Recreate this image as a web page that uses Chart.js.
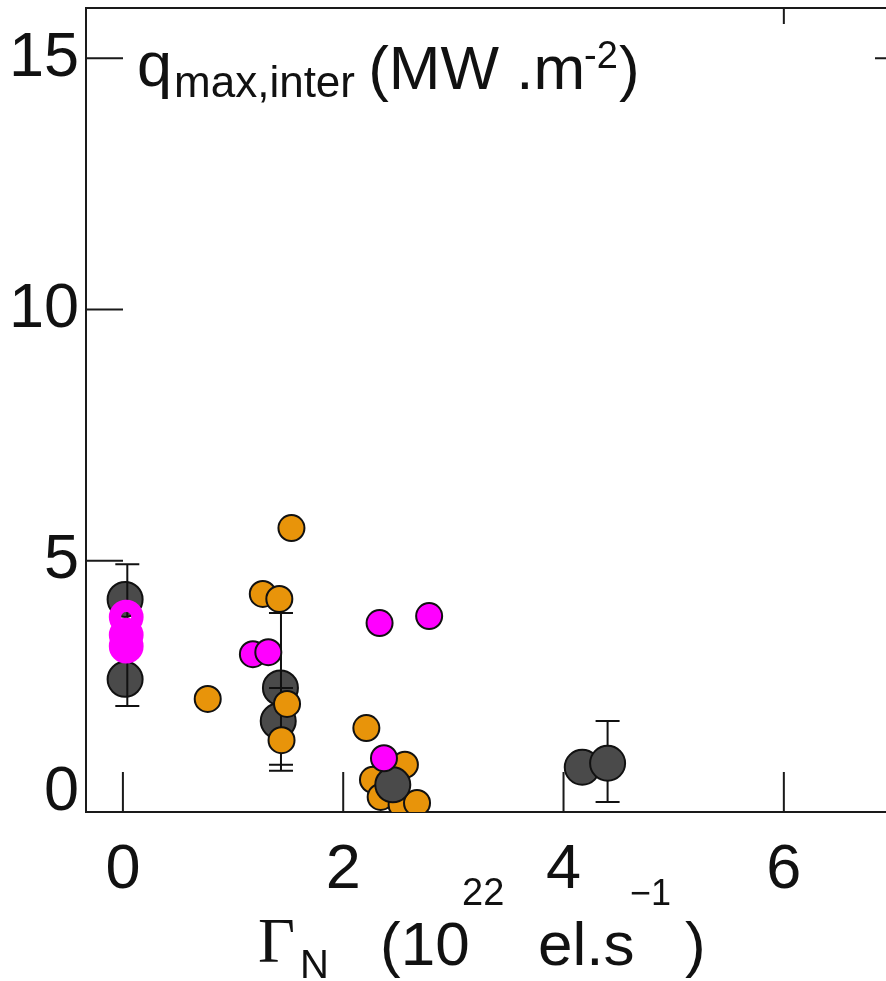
<!DOCTYPE html>
<html><head><meta charset="utf-8">
<script src="https://cdn.jsdelivr.net/npm/chart.js@4.4.1/dist/chart.umd.min.js"></script>
<style>html,body{margin:0;padding:0;background:#fff;overflow:hidden;width:886px;height:981px}#wrap{width:900px;height:981px}canvas{display:block}</style>
</head><body>
<div id="wrap"><canvas id="c" width="900" height="981" style="width:900px;height:981px"></canvas></div>
<script>
// ---- data ----
const xTickValues = [0, 2, 4, 6];
const yTickValues = [0, 5, 10, 15];
const topTickValues = [6];
const rightTickValues = [15];

const greyLowerX = [0.02, 0.02, 1.43, 1.41];
const greyLowerY = [4.23, 2.64, 2.47, 1.81];
const greyUpperX = [2.45, 4.17, 4.40];
const greyUpperY = [0.54, 0.89, 0.97];

const orangeX = [1.53, 1.27, 1.42, 0.77, 1.49, 1.44, 2.21, 2.56, 2.27, 2.34, 2.53, 2.67];
const orangeY = [5.65, 4.34, 4.24, 2.25, 2.15, 1.43, 1.67, 0.94, 0.64, 0.30, 0.14, 0.18];

const magentaX = [2.33, 2.78, 1.18, 1.32, 2.37];
const magentaY = [3.76, 3.90, 3.14, 3.18, 1.07];
const magentaZeroX = [0.03, 0.03, 0.03];
const magentaZeroY = [3.88, 3.52, 3.30];

const errX = [0.04, 1.435, 1.435, 4.40];
const errLow = [2.11, 0.82, 0.94, 0.20];
const errHigh = [4.93, 3.96, 2.47, 1.81];

const plotTitle = { main: 'q', sub: 'max,inter', unit: ' (MW .m', sup: '-2', close: ')' };
const xTitle = { sym: 'Γ', sub: 'N', open: '(10', sup1: '22', mid: 'el.s', sup2: '−1', close: ')' };

const pts = (xs, ys) => xs.map((v, i) => ({ x: v, y: ys[i] }));

const SANS = '"Liberation Sans", Arial, Helvetica, sans-serif';
const SERIF = '"Liberation Serif", "Times New Roman", serif';
const zeroPad = () => ({ left: 0, top: 0, right: 0, bottom: 0 });

const decor = {
  id: 'decor',
  beforeDatasetsDraw(chart) {
    const { ctx, chartArea: a, scales: { x, y } } = chart;
    ctx.save();
    ctx.strokeStyle = '#1a1a1a';
    ctx.lineWidth = 2;
    ctx.beginPath();
    x.ticks.forEach(t => { const px = x.getPixelForValue(t.value); ctx.moveTo(px, a.bottom); ctx.lineTo(px, a.bottom - 40); });
    y.ticks.forEach(t => { if (t.value === 0) return; const py = y.getPixelForValue(t.value); ctx.moveTo(a.left, py); ctx.lineTo(a.left + 37, py); });
    ctx.moveTo(a.left, a.top); ctx.lineTo(a.right, a.top); ctx.lineTo(a.right, a.bottom);
    topTickValues.forEach(v => { const px = x.getPixelForValue(v); ctx.moveTo(px, a.top); ctx.lineTo(px, a.top + 16); });
    rightTickValues.forEach(v => { const py = y.getPixelForValue(v); ctx.moveTo(a.right, py); ctx.lineTo(a.right - 19, py); });
    ctx.stroke();
    ctx.restore();
  },
  afterDatasetDraw(chart, args) {
    if (args.index !== 4) return;
    const { ctx, scales: { x, y } } = chart;
    ctx.save();
    ctx.strokeStyle = '#111';
    ctx.lineWidth = 2;
    ctx.beginPath();
    errX.forEach((v, i) => {
      const px = x.getPixelForValue(v);
      const y1 = y.getPixelForValue(errLow[i]);
      const y2 = y.getPixelForValue(errHigh[i]);
      ctx.moveTo(px, y1); ctx.lineTo(px, y2);
      ctx.moveTo(px - 12, y1); ctx.lineTo(px + 12, y1);
      ctx.moveTo(px - 12, y2); ctx.lineTo(px + 12, y2);
    });
    ctx.stroke();
    ctx.restore();
  },
  afterDraw(chart) {
    const { ctx } = chart;
    ctx.save();
    ctx.fillStyle = '#111';
    ctx.textBaseline = 'alphabetic';
    ctx.textAlign = 'left';
    // plot title inside the axes
    let cx = 137;
    ctx.font = '63px ' + SANS; ctx.fillText(plotTitle.main, cx, 86); cx += ctx.measureText(plotTitle.main).width + 2;
    ctx.font = '44px ' + SANS; ctx.fillText(plotTitle.sub, cx, 97); cx += ctx.measureText(plotTitle.sub).width - 4;
    ctx.font = '62px ' + SANS; ctx.fillText(plotTitle.unit, cx, 89); cx += ctx.measureText(plotTitle.unit).width - 1;
    ctx.font = '38px ' + SANS; ctx.fillText(plotTitle.sup, cx, 68); cx += ctx.measureText(plotTitle.sup).width + 1;
    ctx.font = '62px ' + SANS; ctx.fillText(plotTitle.close, cx, 89);
    // x axis title
    ctx.font = '64px ' + SERIF; ctx.fillText(xTitle.sym, 258, 962);
    ctx.font = '40px ' + SANS; ctx.fillText(xTitle.sub, 300, 978);
    ctx.font = '62px ' + SANS; ctx.fillText(xTitle.open, 380, 965);
    ctx.font = '38px ' + SANS; ctx.fillText(xTitle.sup1, 462, 905);
    ctx.font = '62px ' + SANS; ctx.fillText(xTitle.mid, 538, 965);
    ctx.font = '36px ' + SANS; ctx.fillText(xTitle.sup2, 630, 905);
    ctx.font = '62px ' + SANS; ctx.fillText(xTitle.close, 685, 965);
    ctx.restore();
  }
};

const ds = (data, bg, border, r, bw) => ({
  data, backgroundColor: bg, borderColor: border, borderWidth: bw,
  pointRadius: r, pointHoverRadius: r, clip: 0
});

new Chart(document.getElementById('c'), {
  type: 'scatter',
  data: {
    datasets: [
      ds(pts(magentaZeroX, magentaZeroY), 'rgba(255,0,255,0)', '#ff00ff', 11.2, 12.4),
      ds(pts(magentaX, magentaY), '#ff00ff', '#111', 13, 2),
      ds(pts(greyUpperX, greyUpperY), '#4a4a4a', '#111', 17.5, 2),
      ds(pts(orangeX, orangeY), '#e8940a', '#111', 13, 2),
      ds(pts(greyLowerX, greyLowerY), '#4a4a4a', '#111', 17.5, 2)
    ]
  },
  options: {
    responsive: false,
    animation: false,
    events: [],
    devicePixelRatio: 1,
    layout: { autoPadding: false, padding: { top: 8, right: 6, left: 0, bottom: 0 } },
    plugins: { legend: { display: false }, tooltip: { enabled: false } },
    scales: {
      x: {
        type: 'linear', min: -0.335, max: 7.0,
        grid: { display: false, drawTicks: false },
        border: { display: true, color: '#1a1a1a', width: 2 },
        afterBuildTicks: s => { s.ticks = xTickValues.map(v => ({ value: v })); },
        afterFit: s => { s.height = 169; s.paddingLeft = 0; s.paddingRight = 0; s.getPadding = zeroPad; },
        ticks: { color: '#111', padding: 21, maxRotation: 0, autoSkip: false, font: { family: SANS, size: 63 } }
      },
      y: {
        type: 'linear', min: 0, max: 16,
        grid: { display: false, drawTicks: false },
        border: { display: true, color: '#1a1a1a', width: 2 },
        afterBuildTicks: s => { s.ticks = yTickValues.map(v => ({ value: v })); },
        afterFit: s => { s.width = 86; s.paddingTop = 0; s.paddingBottom = 0; s.getPadding = zeroPad; },
        ticks: {
          color: '#111', padding: 7, autoSkip: false,
          font: { family: SANS, size: 63, lineHeight: 0.62 },
          callback: v => v === 0 ? ['0', ''] : String(v)
        }
      }
    }
  },
  plugins: [decor]
});
</script>
</body></html>
